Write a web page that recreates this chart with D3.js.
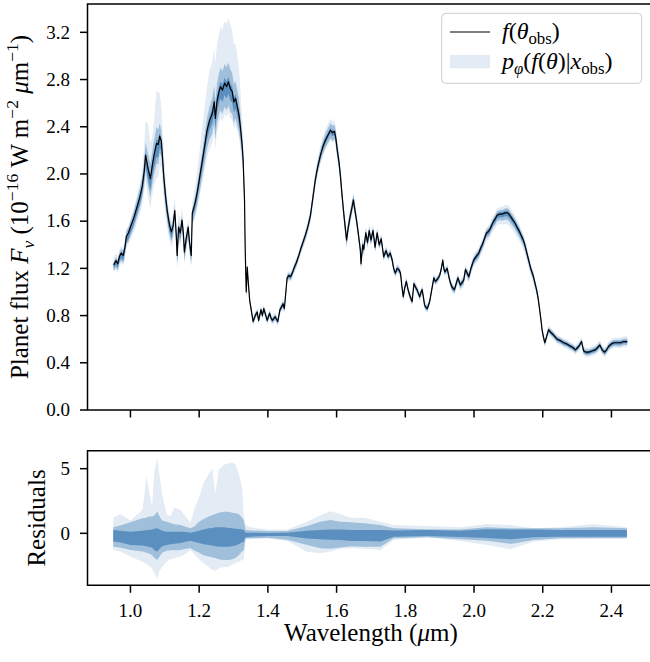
<!doctype html>
<html lang="en">
<head>
<meta charset="utf-8">
<title>Planet flux</title>
<style>
  body { margin: 0; background: #fff; }
  text { font-family: "Liberation Serif", "Times New Roman", serif; fill: #000; }
</style>
</head>
<body>
<div id="chart"></div>
<script src="https://d3js.org/d3.v7.min.js"></script>
<script>
// observed spectrum f(theta_obs), wavelength in micron, flux in 1e-16 W m-2 um-1
var wavelength = [0.951,0.958,0.963,0.968,0.973,0.979,0.984,0.988,0.994,1.000,1.010,1.019,1.027,1.034,1.040,1.044,1.051,1.058,1.063,1.068,
  1.076,1.081,1.085,1.090,1.097,1.102,1.107,1.113,1.119,1.124,1.129,1.133,1.136,1.140,1.145,1.150,1.154,1.157,1.162,1.168,
  1.172,1.177,1.180,1.187,1.194,1.203,1.213,1.223,1.230,1.238,1.244,1.247,1.252,1.258,1.262,1.268,1.274,1.280,1.285,1.291,
  1.296,1.301,1.306,1.311,1.316,1.320,1.325,1.328,1.332,1.334,1.337,1.340,1.343,1.347,1.352,1.357,1.363,1.369,1.373,1.380,
  1.384,1.388,1.393,1.398,1.405,1.409,1.413,1.421,1.429,1.435,1.441,1.444,1.448,1.456,1.461,1.466,1.471,1.477,1.483,1.490,
  1.495,1.502,1.509,1.516,1.524,1.531,1.538,1.545,1.553,1.560,1.568,1.575,1.582,1.588,1.594,1.598,1.602,1.607,1.611,1.615,
  1.620,1.625,1.629,1.634,1.640,1.645,1.649,1.653,1.658,1.663,1.669,1.671,1.676,1.679,1.685,1.690,1.695,1.700,1.706,1.712,
  1.718,1.724,1.730,1.737,1.744,1.750,1.756,1.762,1.766,1.771,1.776,1.781,1.786,1.790,1.794,1.798,1.803,1.808,1.813,1.817,
  1.820,1.825,1.830,1.834,1.838,1.842,1.846,1.849,1.853,1.856,1.860,1.864,1.871,1.877,1.883,1.887,1.891,1.896,1.900,1.905,
  1.909,1.912,1.915,1.922,1.926,1.931,1.936,1.943,1.948,1.953,1.960,1.965,1.970,1.975,1.980,1.985,1.992,1.999,2.006,2.014,
  2.019,2.024,2.030,2.036,2.041,2.046,2.052,2.057,2.062,2.067,2.075,2.082,2.090,2.098,2.104,2.111,2.118,2.125,2.131,2.137,
  2.142,2.147,2.153,2.159,2.165,2.172,2.177,2.182,2.187,2.191,2.195,2.198,2.202,2.206,2.211,2.217,2.223,2.230,2.236,2.242,
  2.250,2.261,2.270,2.281,2.288,2.295,2.305,2.313,2.319,2.326,2.334,2.343,2.353,2.360,2.366,2.373,2.380,2.386,2.392,2.400,
  2.407,2.416,2.426,2.436,2.446];
var flux = [1.23,1.265,1.24,1.30,1.33,1.31,1.38,1.47,1.50,1.55,1.63,1.72,1.80,1.89,2.02,2.16,2.05,1.96,2.06,2.15,
  2.26,2.25,2.32,2.28,1.98,1.82,1.69,1.58,1.51,1.56,1.69,1.50,1.31,1.55,1.50,1.61,1.50,1.34,1.45,1.55,
  1.42,1.31,1.67,1.74,1.84,2.00,2.18,2.37,2.45,2.51,2.61,2.47,2.62,2.70,2.74,2.71,2.77,2.74,2.78,2.72,
  2.70,2.61,2.64,2.57,2.50,2.40,2.25,2.12,1.78,1.36,1.00,1.21,1.08,0.93,0.84,0.75,0.80,0.83,0.76,0.85,
  0.80,0.86,0.81,0.76,0.82,0.78,0.76,0.79,0.75,0.85,0.88,0.90,0.86,1.12,1.14,1.13,1.16,1.21,1.25,1.31,
  1.36,1.42,1.48,1.55,1.65,1.80,1.95,2.06,2.16,2.23,2.29,2.33,2.37,2.35,2.36,2.30,2.20,2.10,1.99,1.85,
  1.69,1.55,1.44,1.55,1.65,1.72,1.78,1.70,1.61,1.50,1.36,1.24,1.40,1.36,1.50,1.42,1.52,1.44,1.52,1.38,
  1.50,1.40,1.45,1.30,1.35,1.30,1.33,1.27,1.20,1.16,1.20,1.19,1.16,1.05,0.96,1.03,1.09,1.02,0.97,0.94,
  0.92,1.07,1.04,1.02,0.99,0.96,1.00,1.02,0.95,0.89,0.87,0.86,0.92,1.02,1.12,1.09,1.10,1.12,1.14,1.20,
  1.27,1.20,1.17,1.20,1.14,1.08,1.04,1.02,1.07,1.12,1.06,1.08,1.10,1.19,1.16,1.13,1.21,1.27,1.30,1.33,
  1.37,1.40,1.45,1.50,1.51,1.53,1.57,1.60,1.62,1.65,1.66,1.66,1.67,1.67,1.65,1.62,1.59,1.55,1.52,1.48,
  1.45,1.41,1.34,1.27,1.20,1.14,1.08,1.02,0.94,0.85,0.76,0.68,0.62,0.57,0.62,0.68,0.66,0.64,0.62,0.60,
  0.59,0.57,0.56,0.54,0.53,0.51,0.54,0.58,0.50,0.49,0.49,0.50,0.51,0.53,0.55,0.51,0.49,0.51,0.54,0.56,
  0.57,0.57,0.57,0.58,0.58];

// posterior band edges around the spectrum (offsets from f, flux units)
var bandWl     = [0.95, 1.0, 1.035, 1.05, 1.065, 1.078, 1.092, 1.11, 1.14, 1.175, 1.2, 1.23, 1.26, 1.29, 1.315, 1.33, 1.34, 1.4, 1.5, 1.58, 1.65, 1.75, 1.9, 2.05, 2.1, 2.2, 2.3, 2.45];
var topLightHi = [0.06, 0.06, 0.13, 0.39, 0.22, 0.49, 0.25, 0.09, 0.12, 0.06, 0.22, 0.42, 0.50, 0.55, 0.41, 0.10, 0.035, 0.035, 0.04, 0.10, 0.06, 0.04, 0.035, 0.05, 0.07, 0.035, 0.035, 0.045];
var topMidHi   = [0.025, 0.05, 0.08, 0.125, 0.12, 0.14, 0.08, 0.055, 0.045, 0.03, 0.07, 0.12, 0.16, 0.165, 0.135, 0.08, 0.022, 0.022, 0.025, 0.06, 0.045, 0.025, 0.022, 0.03, 0.04, 0.022, 0.022, 0.025];
var topDarkHi  = [0.013, 0.01, 0.015, 0.026, 0.027, 0.033, 0.016, 0.01, 0.01, 0.005, 0.016, 0.036, 0.046, 0.042, 0.03, 0.02, 0.01, 0.01, 0.01, 0.018, 0.013, 0.01, 0.01, 0.015, 0.02, 0.01, 0.01, 0.012];
var topDarkLo  = [-0.032, -0.054, -0.066, -0.10, -0.10, -0.12, -0.08, -0.057, -0.05, -0.04, -0.06, -0.08, -0.10, -0.10, -0.077, -0.05, -0.015, -0.015, -0.018, -0.03, -0.03, -0.018, -0.015, -0.025, -0.03, -0.015, -0.015, -0.015];
var topMidLo   = [-0.05, -0.077, -0.098, -0.15, -0.16, -0.175, -0.12, -0.086, -0.084, -0.08, -0.12, -0.16, -0.20, -0.20, -0.15, -0.10, -0.025, -0.025, -0.035, -0.07, -0.05, -0.028, -0.025, -0.045, -0.06, -0.025, -0.025, -0.03];
var topLightLo = [-0.065, -0.108, -0.154, -0.245, -0.25, -0.30, -0.21, -0.137, -0.12, -0.09, -0.16, -0.24, -0.27, -0.25, -0.20, -0.16, -0.035, -0.035, -0.05, -0.085, -0.058, -0.04, -0.035, -0.07, -0.10, -0.04, -0.04, -0.045];

// residual quantile bands
var resWl = [0.95, 0.97, 1.0, 1.035, 1.047, 1.053, 1.063, 1.07, 1.078, 1.085, 1.092, 1.105, 1.116, 1.128, 1.146, 1.16, 1.175, 1.185, 1.2, 1.213,
  1.228, 1.238, 1.247, 1.257, 1.272, 1.286, 1.296, 1.306, 1.315, 1.325, 1.33, 1.335, 1.35, 1.4, 1.456, 1.514, 1.553, 1.582, 1.611, 1.64,
  1.68, 1.728, 1.766, 1.863, 1.96, 2.038, 2.106, 2.174, 2.251, 2.348, 2.445];
var resLightHi = [1.2, 1.5, 1.0, 1.8, 4.4, 3.4, 2.1, 4.9, 5.8, 4.4, 3.1, 1.5, 1.3, 2.0, 1.8, 1.3, 0.8, 1.8, 2.8, 3.9,
  4.6, 5.0, 3.1, 4.9, 5.3, 5.4, 5.5, 5.3, 4.6, 3.6, 1.3, 0.64, 0.46, 0.3, 0.3, 0.9, 1.4, 1.7, 1.5, 1.2,
  1.2, 0.9, 0.64, 0.57, 0.46, 0.72, 0.64, 0.39, 0.46, 0.72, 0.46];
var resMidHi = [0.46, 0.6, 0.85, 1.16, 1.2, 1.3, 1.3, 1.4, 1.67, 1.3, 1.0, 0.9, 0.8, 0.7, 0.64, 0.5, 0.39, 0.5, 0.9, 1.1,
  1.3, 1.42, 1.5, 1.6, 1.67, 1.67, 1.6, 1.55, 1.5, 1.2, 1.0, 0.26, 0.22, 0.18, 0.18, 0.57, 0.9, 1.03, 0.9, 0.85,
  0.77, 0.64, 0.39, 0.31, 0.3, 0.46, 0.39, 0.39, 0.39, 0.46, 0.39];
var resDarkHi = [0.26, 0.2, 0.13, 0.2, 0.26, 0.26, 0.3, 0.35, 0.39, 0.3, 0.2, 0.13, 0.13, 0.13, 0.13, 0.1, 0.05, 0.1, 0.2, 0.3,
  0.39, 0.42, 0.46, 0.46, 0.46, 0.42, 0.4, 0.36, 0.33, 0.3, 0.25, 0.05, 0.05, 0.03, 0.05, 0.2, 0.26, 0.3, 0.3, 0.26,
  0.26, 0.26, 0.21, 0.26, 0.2, 0.31, 0.3, 0.3, 0.26, 0.26, 0.26];
var resDarkLo = [-0.64, -0.7, -0.9, -0.95, -1.0, -1.05, -1.1, -1.3, -1.42, -1.2, -1.0, -0.9, -0.85, -0.8, -0.75, -0.65, -0.57, -0.65, -0.75, -0.85,
  -0.9, -0.95, -1.0, -1.03, -1.03, -1.03, -1.0, -0.95, -0.85, -0.7, -0.64, -0.3, -0.26, -0.2, -0.2, -0.4, -0.46, -0.5, -0.52, -0.6,
  -0.6, -0.64, -0.26, -0.2, -0.28, -0.36, -0.46, -0.31, -0.26, -0.26, -0.26];
var resMidLo = [-1.03, -1.1, -1.29, -1.4, -1.5, -1.55, -1.7, -1.9, -2.06, -1.8, -1.5, -1.35, -1.3, -1.3, -1.29, -1.2, -1.16, -1.3, -1.5, -1.7,
  -1.8, -1.85, -1.9, -2.0, -2.06, -2.06, -2.0, -1.9, -1.7, -1.4, -1.29, -0.4, -0.39, -0.35, -0.5, -0.9, -1.16, -1.2, -1.1, -1.0,
  -1.03, -1.03, -0.39, -0.31, -0.45, -0.57, -0.82, -0.52, -0.39, -0.39, -0.39];
var resLightLo = [-1.29, -1.4, -1.8, -2.2, -2.4, -2.5, -2.7, -3.1, -3.48, -2.9, -2.6, -2.2, -2.0, -1.9, -1.8, -1.6, -1.29, -1.6, -2.0, -2.32,
  -2.6, -2.83, -2.9, -2.7, -2.6, -2.58, -2.4, -2.32, -2.2, -2.06, -2.0, -0.46, -0.45, -0.4, -0.6, -1.42, -1.55, -1.4, -1.2, -1.16,
  -1.2, -1.29, -0.52, -0.31, -0.6, -0.9, -1.24, -0.64, -0.45, -0.4, -0.39];

var xTicks = [1.0, 1.2, 1.4, 1.6, 1.8, 2.0, 2.2, 2.4];
var fluxTicks = [0.0, 0.4, 0.8, 1.2, 1.6, 2.0, 2.4, 2.8, 3.2];
var resTicks = [0, 5];

var lightBlue = "#e3ebf4", midBlue = "#9fbfda", darkBlue = "#5b8fbf";

var svg = d3.select("#chart").append("svg")
    .attr("width", 650)
    .attr("height", 662);

var x = d3.scaleLinear().domain([0.875, 2.525]).range([87.5, 654.4]);
var yTop = d3.scaleLinear().domain([0, 3.44]).range([410, 4]);
var yRes = d3.scaleLinear().domain([-4.02, 6.39]).range([585.3, 450.7]);

var idx = d3.range(wavelength.length);
function offset(arr) { return d3.scaleLinear().domain(bandWl).range(arr).clamp(true); }

function topBand(lo, hi, color) {
  var l = offset(lo), h = offset(hi);
  svg.append("path")
    .datum(idx)
    .attr("fill", color)
    .attr("d", d3.area()
      .x(function(i){ return x(wavelength[i]); })
      .y0(function(i){ return yTop(flux[i] + l(wavelength[i])); })
      .y1(function(i){ return yTop(flux[i] + h(wavelength[i])); }));
}
topBand(topLightLo, topLightHi, lightBlue);
topBand(topMidLo, topMidHi, midBlue);
topBand(topDarkLo, topDarkHi, darkBlue);

svg.append("path")
  .datum(idx)
  .attr("fill", "none")
  .attr("stroke", "#000")
  .attr("stroke-width", 1.2)
  .attr("stroke-linejoin", "round")
  .attr("d", d3.line()
    .x(function(i){ return x(wavelength[i]); })
    .y(function(i){ return yTop(flux[i]); }));

// residual panel
var ridx = d3.range(resWl.length);
function resBand(lo, hi, color) {
  svg.append("path")
    .datum(ridx)
    .attr("fill", color)
    .attr("d", d3.area()
      .x(function(i){ return x(resWl[i]); })
      .y0(function(i){ return yRes(lo[i]); })
      .y1(function(i){ return yRes(hi[i]); }));
}
resBand(resLightLo, resLightHi, lightBlue);
resBand(resMidLo, resMidHi, midBlue);
resBand(resDarkLo, resDarkHi, darkBlue);

// frames
function frame(top, bottom) {
  svg.append("path")
    .attr("fill", "none")
    .attr("stroke", "#000")
    .attr("stroke-width", 1.5)
    .attr("d", "M" + x.range()[1] + "," + top + "H87.5V" + bottom + "H" + x.range()[1]);
}
frame(4, 410);
frame(450.7, 585.3);

var tickLen = 7.5;
// x ticks on both panels
[410, 585.3].forEach(function(y0, k) {
  xTicks.forEach(function(t) {
    svg.append("line")
      .attr("x1", x(t)).attr("x2", x(t))
      .attr("y1", y0).attr("y2", y0 + tickLen)
      .attr("stroke", "#000").attr("stroke-width", 1.5);
    if (k === 1) {
      svg.append("text")
        .attr("x", x(t)).attr("y", 617)
        .attr("text-anchor", "middle")
        .attr("font-size", 19)
        .text(d3.format(".1f")(t));
    }
  });
});

function yTicks(scale, ticks, fmt) {
  ticks.forEach(function(t) {
    svg.append("line")
      .attr("x1", 87.5 - tickLen).attr("x2", 87.5)
      .attr("y1", scale(t)).attr("y2", scale(t))
      .attr("stroke", "#000").attr("stroke-width", 1.5);
    svg.append("text")
      .attr("x", 70).attr("y", scale(t) + 6.3)
      .attr("text-anchor", "end")
      .attr("font-size", 19)
      .text(fmt(t));
  });
}
yTicks(yTop, fluxTicks, d3.format(".1f"));
yTicks(yRes, resTicks, d3.format("d"));

// simple math text: [string, kind] with kind r | i | sub | subi | sup
function mathText(sel, parts, size) {
  var shift = 0;
  parts.forEach(function(p) {
    var s = p[1], target = 0, fs = size;
    if (s === "sub" || s === "subi") { target = 0.22 * size; fs = 0.7 * size; }
    if (s === "sup") { target = -0.4 * size; fs = 0.7 * size; }
    sel.append("tspan")
      .attr("dy", target - shift)
      .attr("font-size", fs)
      .attr("font-style", (s === "i" || s === "subi") ? "italic" : "normal")
      .text(p[0]);
    shift = target;
  });
}

var xl = svg.append("text")
  .attr("x", 370.9).attr("y", 641)
  .attr("text-anchor", "middle");
mathText(xl, [["Wavelength (", "r"], ["\u03bc", "i"], ["m)", "r"]], 25);

var yl = svg.append("text")
  .attr("transform", "translate(28,207) rotate(-90)")
  .attr("text-anchor", "middle");
mathText(yl, [["Planet flux ", "r"], ["F", "i"], ["\u03bd", "subi"], [" (10", "r"], ["\u221216", "sup"],
  [" W m", "r"], ["\u22122", "sup"], [" ", "r"], ["\u03bc", "i"], ["m", "r"], ["\u22121", "sup"], [")", "r"]], 25);

svg.append("text")
  .attr("transform", "translate(45,518) rotate(-90)")
  .attr("text-anchor", "middle")
  .attr("font-size", 25)
  .text("Residuals");

// legend
var lg = svg.append("g");
lg.append("rect")
  .attr("x", 441.7).attr("y", 13.3)
  .attr("width", 200).attr("height", 70)
  .attr("rx", 4)
  .attr("fill", "#fff").attr("fill-opacity", 0.8)
  .attr("stroke", "#cccccc").attr("stroke-width", 1);
lg.append("line")
  .attr("x1", 450).attr("x2", 490).attr("y1", 32).attr("y2", 32)
  .attr("stroke", "#000").attr("stroke-width", 1.2);
lg.append("rect")
  .attr("x", 450).attr("y", 55).attr("width", 40).attr("height", 13.3)
  .attr("fill", lightBlue);
var t1 = lg.append("text").attr("x", 502).attr("y", 39);
mathText(t1, [["f", "i"], ["(", "r"], ["\u03b8", "i"], ["obs", "sub"], [")", "r"]], 24);
var t2 = lg.append("text").attr("x", 502).attr("y", 68.5);
mathText(t2, [["p", "i"], ["\u03c6", "subi"], ["(", "r"], ["f", "i"], ["(", "r"], ["\u03b8", "i"], [")|", "r"], ["x", "i"], ["obs", "sub"], [")", "r"]], 24);
</script>
</body>
</html>
